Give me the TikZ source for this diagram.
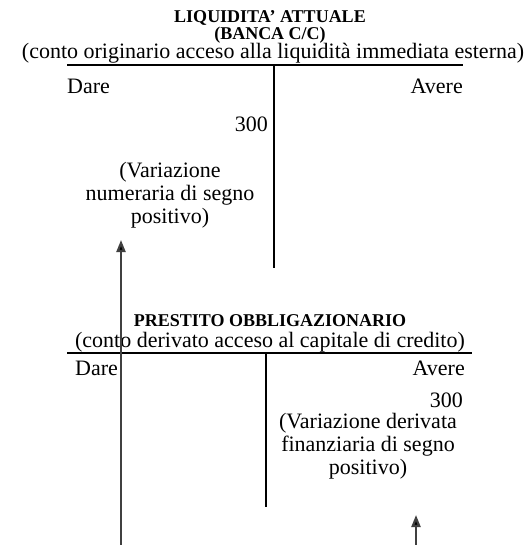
\documentclass[tikz,border=0pt]{standalone}
\usepackage{fontspec}
\setmainfont{Liberation Serif}
\usetikzlibrary{arrows.meta}
\begin{document}
\begin{tikzpicture}[x=1pt,y=-1pt,
  txt/.style={inner sep=0pt, font=\fontsize{22}{23}\selectfont},
  ttl/.style={inner sep=0pt, font=\fontsize{18}{20}\selectfont\bfseries},
  tline/.style={line width=1.3pt},
  flow/.style={line width=2.2pt, draw=black!75, -{Triangle[length=12pt,width=9pt,fill=black]}}]
\useasboundingbox (0,0) rectangle (528,545);
% first account
\node[ttl, anchor=base] (t1) at (270,23) {LIQUIDITA’ ATTUALE};
\node[ttl, anchor=base] (t1b) at (270,39.5) {(BANCA C/C)};
\node[txt, anchor=base] (c1) at (273,59) {(conto originario acceso alla liquidità immediata esterna)};
\coordinate (h1l) at (67,65);
\coordinate (h1r) at (463,65);
\coordinate (v1t) at (274,65);
\coordinate (v1b) at (274,268);
\draw[tline] (h1l) -- (h1r);
\draw[tline] (v1t) -- (v1b);
\node[txt, anchor=base west] (d1) at (67,94) {Dare};
\node[txt, anchor=base east] (a1) at (463,94) {Avere};
\node[txt, anchor=base east] (n1) at (268,132) {300};
\node[txt, align=center, anchor=base] (var1) at (170,223) {(Variazione\\numeraria di segno\\positivo)};
% second account
\node[ttl, anchor=base] (t2) at (270,326) {PRESTITO OBBLIGAZIONARIO};
\node[txt, anchor=base] (c2) at (270,347) {(conto derivato acceso al capitale di credito)};
\coordinate (h2l) at (67,353);
\coordinate (h2r) at (472,353);
\coordinate (v2t) at (266,353);
\coordinate (v2b) at (266,507);
\draw[tline] (h2l) -- (h2r);
\draw[tline] (v2t) -- (v2b);
\node[txt, anchor=base west] (d2) at (75,375) {Dare};
\node[txt, anchor=base east] (a2) at (465,375) {Avere};
\node[txt, anchor=base east] (n2) at (463,407) {300};
\node[txt, align=center, anchor=base] (var2) at (368,474) {(Variazione derivata\\finanziaria di segno\\positivo)};
% arrows
\coordinate (f1s) at (121,545);
\coordinate (f1e) at (121,240);
\coordinate (f2s) at (416,545);
\coordinate (f2e) at (416,515);
\draw[flow] (f1s) -- (f1e);
\draw[flow] (f2s) -- (f2e);
\end{tikzpicture}
\end{document}
